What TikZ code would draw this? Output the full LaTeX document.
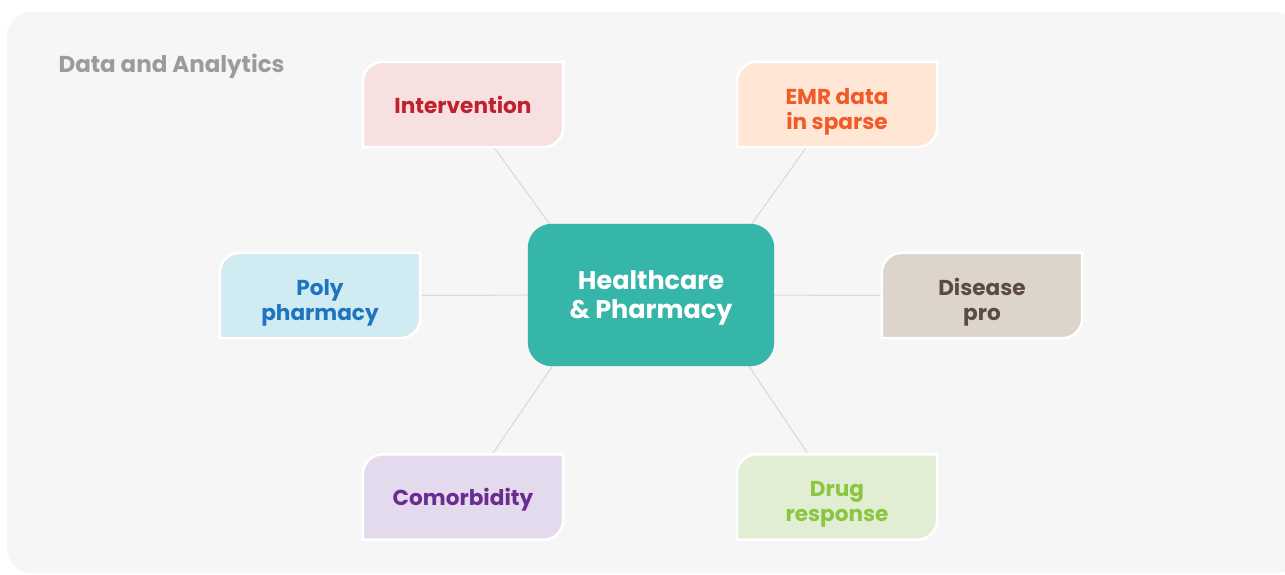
\documentclass[tikz,border=0pt]{standalone}
\usepackage{fontspec}
\setmainfont{Poppins}
\usetikzlibrary{positioning}

\definecolor{panelgray}{HTML}{F6F6F6}
\definecolor{titlegray}{HTML}{9B9B9C}
\definecolor{linkgray}{HTML}{D8D8D8}
\definecolor{hubteal}{HTML}{36B5A9}
\definecolor{intvfill}{HTML}{F7E0E0}
\definecolor{intvtext}{HTML}{C1202F}
\definecolor{emrfill}{HTML}{FFE6D5}
\definecolor{emrtext}{HTML}{F15A29}
\definecolor{polyfill}{HTML}{D0EBF2}
\definecolor{polytext}{HTML}{1F74BF}
\definecolor{disfill}{HTML}{DDD5CB}
\definecolor{distext}{HTML}{5B4B40}
\definecolor{comofill}{HTML}{E3DAEE}
\definecolor{comotext}{HTML}{6A2C91}
\definecolor{drugfill}{HTML}{E2EED4}
\definecolor{drugtext}{HTML}{8CC540}

\pgfdeclarelayer{panel}
\pgfdeclarelayer{links}
\pgfdeclarelayer{shapes}
\pgfsetlayers{panel,links,shapes,main}

\begin{document}
\begin{tikzpicture}[
	x=1pt, y=-1pt,
	leafnode/.style={rectangle, minimum width=200pt, minimum height=85pt, inner sep=0pt,
		align=center, text depth=0pt, font=\fontsize{21.6}{25}\selectfont\bfseries},
	twoline/.style={text height=49pt},
	hubnode/.style={rectangle, minimum width=246pt, minimum height=142pt, inner sep=0pt,
		align=center, text depth=0pt, text=white, font=\fontsize{25.5}{29}\selectfont\bfseries},
	linkline/.style={draw=linkgray, line width=1pt},
	]
	
	\useasboundingbox (0,0) rectangle (1285,574);
	
	%Nodes
	\node[hubnode]							(hub)	at (651,295)	{Healthcare\\\& Pharmacy};
	\node[leafnode, text=intvtext]			(intv)	at (463,104.5)	{Intervention};
	\node[leafnode, twoline, text=emrtext]	(emr)	at (837,104.5)	{EMR data\\in sparse};
	\node[leafnode, twoline, text=polytext]	(poly)	at (320,295.5)	{Poly\\pharmacy};
	\node[leafnode, twoline, text=distext]	(dis)	at (982,295.5)	{Disease\\pro};
	\node[leafnode, text=comotext]			(como)	at (463,497)	{Comorbidity};
	\node[leafnode, twoline, text=drugtext]	(drug)	at (837,497)	{Drug\\response};
	\node[anchor=west, text=titlegray, font=\fontsize{23}{27}\selectfont\bfseries]
											(title)	at (55,66)		{Data and Analytics};
	
	%Panel
	\begin{pgfonlayer}{panel}
		\fill[white] (0,0) rectangle (1285,574);
		\fill[panelgray, rounded corners=25pt] (7,12) rectangle (1300,573);
	\end{pgfonlayer}
	
	%Lines
	\begin{pgfonlayer}{links}
		\foreach \n in {intv,como}
			\draw[linkline] ([xshift=-50pt]hub.center) -- (\n.center);
		\foreach \n in {emr,drug}
			\draw[linkline] ([xshift=50pt]hub.center) -- (\n.center);
		\draw[linkline] (hub.center) -- (poly.center);
		\draw[linkline] (hub.center) -- (dis.center);
	\end{pgfonlayer}
	
	%Shapes
	\begin{pgfonlayer}{shapes}
		\foreach \n/\c in {intv/intvfill, emr/emrfill, poly/polyfill, dis/disfill, como/comofill, drug/drugfill}{
			\fill[black!14, shift={(2.5,3)}] (\n.south west) -- ([yshift=-20pt]\n.north west)
				arc[start angle=180, end angle=90, radius=20pt] -- (\n.north east)
				-- ([yshift=20pt]\n.south east) arc[start angle=0, end angle=-90, radius=20pt] -- cycle;
			\draw[fill=\c, draw=white, line width=2.5pt] (\n.south west) -- ([yshift=-20pt]\n.north west)
				arc[start angle=180, end angle=90, radius=20pt] -- (\n.north east)
				-- ([yshift=20pt]\n.south east) arc[start angle=0, end angle=-90, radius=20pt] -- cycle;
		}
		\fill[black!14, rounded corners=24pt, shift={(1.5,3)}] (hub.north west) rectangle (hub.south east);
		\fill[hubteal, rounded corners=24pt] (hub.north west) rectangle (hub.south east);
	\end{pgfonlayer}
	
\end{tikzpicture}
\end{document}
